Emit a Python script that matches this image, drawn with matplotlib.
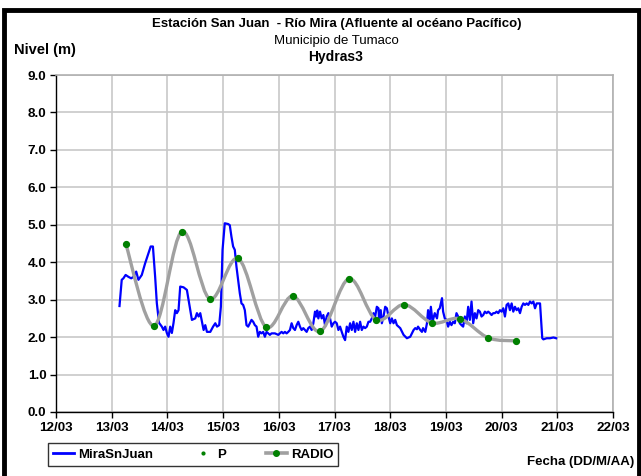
import numpy as np
import matplotlib
matplotlib.use("Agg")
from matplotlib import pyplot as plt
from matplotlib.path import Path
from matplotlib.patches import PathPatch, Rectangle
from matplotlib.lines import Line2D

plt.rcParams['font.family'] = ['Liberation Sans', 'DejaVu Sans']

# fechas en dias de marzo (12.0 = 12/03 00:00), nivel en m
t_mira = [13.14, 13.18, 13.21, 13.25, 13.30, 13.35, 13.39, 13.44, 13.48, 13.54,
          13.60, 13.66, 13.70, 13.74, 13.78, 13.81, 13.85, 13.90, 13.93, 13.96,
          13.99, 14.02, 14.05, 14.08, 14.11, 14.14, 14.17, 14.20, 14.23, 14.29,
          14.35, 14.38, 14.44, 14.50, 14.53, 14.56, 14.59, 14.62, 14.65, 14.68,
          14.71, 14.77, 14.82, 14.86, 14.89, 14.93, 14.96, 14.99, 15.03, 15.09,
          15.12, 15.15, 15.18, 15.21, 15.24, 15.27, 15.30, 15.33, 15.36, 15.39,
          15.42, 15.45, 15.48, 15.51, 15.54, 15.57, 15.60, 15.63, 15.66, 15.69,
          15.72, 15.75, 15.78, 15.81, 15.84, 15.87, 15.90, 15.93, 15.99, 16.02,
          16.05, 16.08, 16.11, 16.14, 16.17, 16.20, 16.23, 16.26, 16.29, 16.32,
          16.35, 16.38, 16.41, 16.44, 16.47, 16.50, 16.53, 16.56, 16.59, 16.62,
          16.65, 16.67, 16.69, 16.71, 16.74, 16.77, 16.80, 16.83, 16.86, 16.89,
          16.92, 16.95, 16.98, 17.01, 17.04, 17.07, 17.10, 17.13, 17.16, 17.19,
          17.22, 17.25, 17.28, 17.31, 17.34, 17.37, 17.40, 17.43, 17.46, 17.49,
          17.52, 17.55, 17.58, 17.61, 17.64, 17.67, 17.70, 17.73, 17.76, 17.79,
          17.80, 17.83, 17.85, 17.88, 17.91, 17.94, 17.97, 18.00, 18.03, 18.06,
          18.09, 18.12, 18.18, 18.24, 18.30, 18.36, 18.39, 18.42, 18.45, 18.48,
          18.50, 18.54, 18.57, 18.59, 18.63, 18.66, 18.68, 18.71, 18.73, 18.76,
          18.80, 18.84, 18.86, 18.89, 18.93, 18.95, 18.98, 19.01, 19.04, 19.07,
          19.10, 19.13, 19.16, 19.19, 19.22, 19.25, 19.28, 19.31, 19.34, 19.37,
          19.40, 19.43, 19.46, 19.49, 19.52, 19.55, 19.58, 19.61, 19.64, 19.67,
          19.70, 19.73, 19.76, 19.79, 19.82, 19.85, 19.88, 19.91, 19.94, 19.97,
          20.00, 20.03, 20.06, 20.09, 20.12, 20.15, 20.18, 20.21, 20.24, 20.27,
          20.30, 20.33, 20.36, 20.39, 20.42, 20.45, 20.48, 20.51, 20.54, 20.57,
          20.60, 20.63, 20.66, 20.69, 20.73, 20.75, 20.81, 20.87, 20.93, 20.98]
nivel_mira = [2.83, 3.53, 3.57, 3.66, 3.61, 3.57, 3.61, 3.75, 3.53, 3.66,
              3.97, 4.24, 4.42, 4.42, 3.61, 2.91, 2.38, 2.28, 2.19, 2.28,
              2.11, 2.01, 2.28, 2.11, 2.38, 2.72, 2.64, 2.72, 3.35, 3.33,
              3.26, 2.99, 2.46, 2.50, 2.64, 2.55, 2.64, 2.41, 2.19, 2.32,
              2.14, 2.14, 2.28, 2.37, 2.28, 2.32, 2.81, 4.33, 5.04, 5.02,
              4.99, 4.68, 4.42, 4.33, 3.88, 3.53, 3.17, 2.90, 2.86, 2.72,
              2.32, 2.28, 2.37, 2.46, 2.41, 2.32, 2.28, 2.01, 2.14, 2.10,
              2.14, 2.01, 2.14, 2.10, 2.06, 2.10, 2.10, 2.10, 2.06, 2.10,
              2.14, 2.10, 2.14, 2.10, 2.14, 2.19, 2.37, 2.24, 2.19, 2.32,
              2.41, 2.28, 2.19, 2.24, 2.19, 2.14, 2.24, 2.28, 2.19, 2.37,
              2.68, 2.55, 2.71, 2.50, 2.68, 2.50, 2.59, 2.32, 2.55, 2.64,
              2.50, 2.28, 2.37, 2.41, 2.37, 2.19, 2.28, 2.14, 2.01, 1.92,
              2.28, 2.14, 2.37, 2.19, 2.41, 2.14, 2.37, 2.19, 2.41, 2.19,
              2.28, 2.24, 2.28, 2.41, 2.41, 2.50, 2.64, 2.55, 2.81, 2.77,
              2.46, 2.72, 2.37, 2.55, 2.81, 2.77, 2.55, 2.37, 2.50, 2.37,
              2.46, 2.32, 2.24, 2.06, 1.97, 2.01, 2.10, 2.19, 2.24, 2.21,
              2.28, 2.19, 2.14, 2.24, 2.14, 2.37, 2.72, 2.46, 2.81, 2.41,
              2.64, 2.50, 2.72, 2.77, 3.04, 2.68, 2.50, 2.46, 2.28, 2.41,
              2.32, 2.41, 2.37, 2.64, 2.55, 2.37, 2.32, 2.28, 2.55, 2.37,
              2.81, 2.46, 2.95, 2.37, 2.64, 2.50, 2.72, 2.68, 2.55, 2.59,
              2.68, 2.64, 2.68, 2.64, 2.59, 2.64, 2.64, 2.68, 2.64, 2.72,
              2.68, 2.77, 2.55, 2.86, 2.90, 2.72, 2.90, 2.68, 2.81, 2.72,
              2.77, 2.64, 2.81, 2.90, 2.86, 2.90, 2.86, 2.95, 2.90, 2.95,
              2.77, 2.90, 2.90, 2.90, 1.97, 1.94, 1.97, 1.97, 1.99, 1.97]

t_radio = [13.25, 13.76, 14.26, 14.76, 15.27, 15.77, 16.25, 16.74, 17.26, 17.75,
           18.25, 18.75, 19.25, 19.76, 20.26]
nivel_radio = [4.50, 2.30, 4.82, 3.02, 4.10, 2.27, 3.10, 2.15, 3.56, 2.46,
               2.87, 2.38, 2.49, 1.98, 1.90]

dias = list(range(12, 23))
etiquetas_x = ["%02d/03" % d for d in dias]
niveles_y = np.arange(0, 10, 1.0)

W, H = 641, 476
fig = plt.figure(figsize=(W / 100, H / 100), dpi=100)
ax = fig.add_axes([56 / W, 1 - 412 / H, (613 - 56) / W, (412 - 75) / H])

ax.plot(t_mira, nivel_mira, color='#0000ff', lw=1.6, zorder=3)


# curva suavizada (bezier estilo excel) para RADIO
def curva_suave(xs, ys):
    pts = np.column_stack([xs, ys])
    n = len(pts)
    verts = [pts[0]]
    codes = [Path.MOVETO]
    for i in range(n - 1):
        p0 = pts[i - 1] if i > 0 else pts[i]
        p1 = pts[i]
        p2 = pts[i + 1]
        p3 = pts[i + 2] if i + 2 < n else pts[i + 1]
        c1 = p1 + (p2 - p0) / 6.0
        c2 = p2 - (p3 - p1) / 6.0
        verts += [c1, c2, p2]
        codes += [Path.CURVE4] * 3
    return Path(verts, codes)


ax.add_patch(PathPatch(curva_suave(t_radio, nivel_radio), fill=False,
                       edgecolor='#a0a0a0', lw=2.4, zorder=4, capstyle='round'))
ax.plot(t_radio, nivel_radio, ls='none', marker='o', ms=4.2,
        color='#008000', zorder=5)

ax.set_xlim(12, 22)
ax.set_ylim(0, 9)
ax.set_xticks(dias)
ax.set_xticklabels(etiquetas_x)
ax.set_yticks(niveles_y)
ax.set_yticklabels(["%.1f" % v for v in niveles_y])
ax.grid(True, color='#c8c8c8', lw=1.2)
ax.set_axisbelow(True)
for s in ['top', 'right']:
    ax.spines[s].set_color('#b0b0b0')
    ax.spines[s].set_linewidth(1.2)
for s in ['left', 'bottom']:
    ax.spines[s].set_color('black')
    ax.spines[s].set_linewidth(1.0)
ax.tick_params(direction='out', length=4, width=1, labelsize=9.7, pad=3)
for lab in ax.get_xticklabels() + ax.get_yticklabels():
    lab.set_fontweight('bold')

fig.text(337 / W, 1 - 24 / H, "Estación San Juan  - Río Mira (Afluente al océano Pacífico)",
         ha='center', va='center', fontsize=9.5, fontweight='bold')
fig.text(336 / W, 1 - 41 / H, "Municipio de Tumaco", ha='center', va='center', fontsize=9.5)
fig.text(336 / W, 1 - 57 / H, "Hydras3", ha='center', va='center', fontsize=10, fontweight='bold')
fig.text(14 / W, 1 - 50 / H, "Nivel (m)", ha='left', va='center', fontsize=10.5, fontweight='bold')
fig.text(634 / W, 1 - 462 / H, "Fecha (DD/M/AA)", ha='right', va='center',
         fontsize=9.5, fontweight='bold')

handles = [Line2D([], [], color='#0000ff', lw=2),
           Line2D([], [], ls='none', marker='o', ms=2, color='#008000'),
           Line2D([], [], color='#a0a0a0', lw=2.6, marker='o', ms=4, mfc='#008000', mec='#008000')]
leg = fig.legend(handles, ["MiraSnJuan", "P", "RADIO"], ncol=3,
                 loc='center', bbox_to_anchor=(41 / W, 1 - 466 / H, 304 / W, 23 / H),
                 mode='expand', frameon=True, fancybox=False, handlelength=1.6,
                 handletextpad=0.3, borderpad=0.4, prop={'size': 9.5, 'weight': 'bold'})
leg.get_frame().set_edgecolor('black')
leg.get_frame().set_linewidth(1.0)

# marco negro
fig.patches.append(Rectangle((4 / W, -0.1), (639 - 4) / W, 1.1 - 10 / H,
                             transform=fig.transFigure, fill=False,
                             edgecolor='black', lw=3.5, clip_on=False))

fig.savefig("out.png", dpi=100)
